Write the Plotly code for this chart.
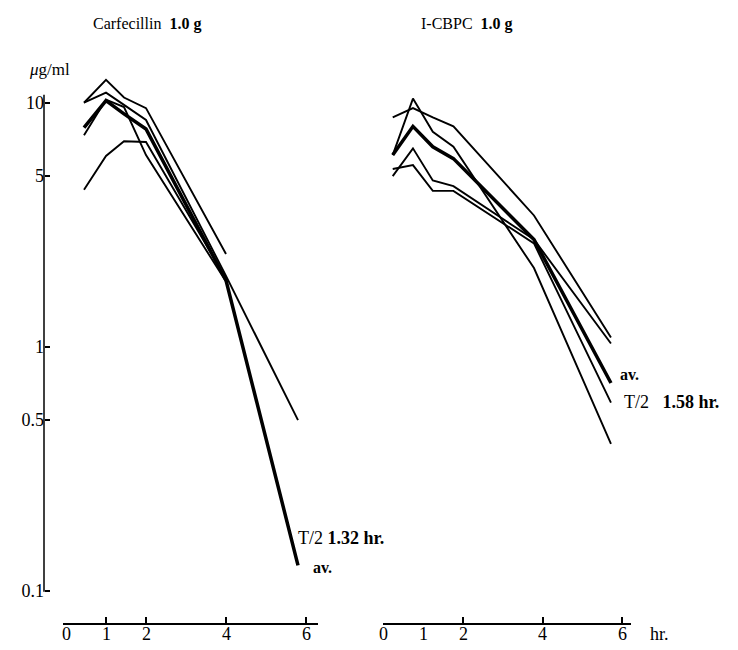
import plotly.graph_objects as go

# Sampling times (hr) as plotted in each panel
t_carf = [0.45, 1.0, 1.45, 2.0, 4.0, 5.8]
t_icbpc = [0.22, 0.73, 1.23, 1.75, 3.78, 5.72]

# Carfecillin 1.0 g: serum levels (µg/ml), individual subjects and average
carf_1 = [10.0, 12.4, 10.5, 9.5, 2.4, None]
carf_2 = [10.0, 11.0, 9.8, 8.5, 1.95, 0.5]
carf_3 = [7.35, 10.3, 9.6, 6.1, 1.85, None]
carf_4 = [4.4, 6.05, 6.95, 6.9, 1.9, None]
carf_av = [7.9, 10.2, 9.0, 7.8, 1.87, 0.127]

# I-CBPC 1.0 g: serum levels (µg/ml), individual subjects and average
icbpc_1 = [8.7, 9.5, 8.7, 8.0, 3.45, 1.09]
icbpc_2 = [6.1, 10.4, 7.6, 6.6, 2.1, 0.40]
icbpc_3 = [5.0, 6.5, 4.8, 4.55, 2.75, 1.03]
icbpc_4 = [5.35, 5.55, 4.35, 4.35, 2.65, 0.59]
icbpc_av = [6.1, 8.0, 6.6, 5.9, 2.75, 0.71]

y_ticks = [0.1, 0.5, 1, 5, 10]
y_labels = ["0.1", "0.5", "1", "5", "10"]
x_labels = [0, 1, 2, 4, 6]
carf_tick_marks = [1, 2, 4, 6]
icbpc_tick_marks = [0, 2, 4, 6]

W, H = 738, 650
FONT = "Liberation Serif"


def fx(p):
    return p / W


def fy(p):
    return 1 - p / H


fig = go.Figure()

thin = dict(color="black", width=1.9)
thick = dict(color="black", width=3.5)

for ys in [carf_1, carf_2, carf_3, carf_4]:
    fig.add_trace(go.Scatter(x=t_carf, y=ys, mode="lines", line=thin,
                             xaxis="x", yaxis="y", hoverinfo="skip"))
fig.add_trace(go.Scatter(x=t_carf, y=carf_av, mode="lines", line=thick,
                         xaxis="x", yaxis="y", hoverinfo="skip"))

for ys in [icbpc_1, icbpc_2, icbpc_3, icbpc_4]:
    fig.add_trace(go.Scatter(x=t_icbpc, y=ys, mode="lines", line=thin,
                             xaxis="x2", yaxis="y", hoverinfo="skip"))
fig.add_trace(go.Scatter(x=t_icbpc, y=icbpc_av, mode="lines", line=thick,
                         xaxis="x2", yaxis="y", hoverinfo="skip"))

axis_common = dict(showgrid=False, zeroline=False, showline=True,
                   linecolor="black", linewidth=1.5, ticks="inside",
                   tickcolor="black", tickwidth=2, ticklen=6,
                   showticklabels=False, anchor="free", position=fy(632))

# log scale: 247 px per decade, value 10 at y=104 px
Y_TOP, Y_BOT = 60, 600
y_range = [1 - (Y_BOT - 104) / 247, 1 - (Y_TOP - 104) / 247]

fig.update_layout(
    width=W, height=H,
    margin=dict(l=0, r=0, t=0, b=0),
    paper_bgcolor="white", plot_bgcolor="rgba(0,0,0,0)",
    showlegend=False,
    font=dict(family=FONT, color="black", size=15),
    yaxis=dict(type="log", range=y_range,
               domain=[fy(Y_BOT), fy(Y_TOP)], anchor="free", position=fx(44),
               showgrid=False, zeroline=False, showline=False,
               ticks="inside", tickcolor="black", tickwidth=2, ticklen=5,
               tickvals=y_ticks, ticktext=y_labels,
               tickfont=dict(family=FONT, size=18, color="black")),
    xaxis=dict(domain=[fx(63), fx(318)], range=[-0.075, 6.3],
               tickvals=carf_tick_marks, **axis_common),
    xaxis2=dict(domain=[fx(383), fx(631)], range=[-0.025, 6.225],
                tickvals=icbpc_tick_marks, **axis_common),
    # vertical axis line, from just above the 10 tick down to 0.1
    shapes=[dict(type="line", xref="paper", yref="paper",
                 x0=fx(44), x1=fx(44), y0=fy(96), y1=fy(599),
                 line=dict(color="black", width=1.5))],
)

ann = []
tick_font = dict(family=FONT, size=18, color="black")
label_font = dict(family=FONT, size=18, color="black")
small_font = dict(family=FONT, size=16, color="black")

# hour labels under both time axes
for v in x_labels:
    for ref in ("x", "x2"):
        ann.append(dict(x=v, xref=ref, y=fy(642), yref="paper", text=str(v),
                        showarrow=False, xanchor="center", yanchor="middle",
                        font=tick_font))

extra = [
    dict(x=fx(648), y=fy(642), text="hr.", xanchor="left"),
    dict(x=fx(27), y=fy(70), text="<i>μ</i>g/ml", xanchor="left",
         font=dict(family=FONT, size=17, color="black")),
    dict(x=fx(147), y=fy(24), text="Carfecillin\u00a0\u00a0<b>1.0 g</b>",
         xanchor="center", font=small_font),
    dict(x=fx(467), y=fy(24), text="I-CBPC\u00a0\u00a0<b>1.0 g</b>",
         xanchor="center", font=small_font),
    dict(x=fx(296), y=fy(545), text="T/2\u00a0<b>1.32\u00a0hr.</b>",
         xanchor="left"),
    dict(x=fx(311), y=fy(575), text="<b>av.</b>", xanchor="left",
         font=small_font),
    dict(x=fx(618), y=fy(379), text="<b>av.</b>", xanchor="left",
         font=small_font),
    dict(x=fx(622), y=fy(407), text="T/2\u00a0\u00a0\u00a0<b>1.58\u00a0hr.</b>",
         xanchor="left"),
]
for a in extra:
    a.setdefault("font", label_font)
    a.update(xref="paper", yref="paper", showarrow=False, yanchor="middle")
ann += extra

fig.update_layout(annotations=ann)

fig.write_html("out.html")
